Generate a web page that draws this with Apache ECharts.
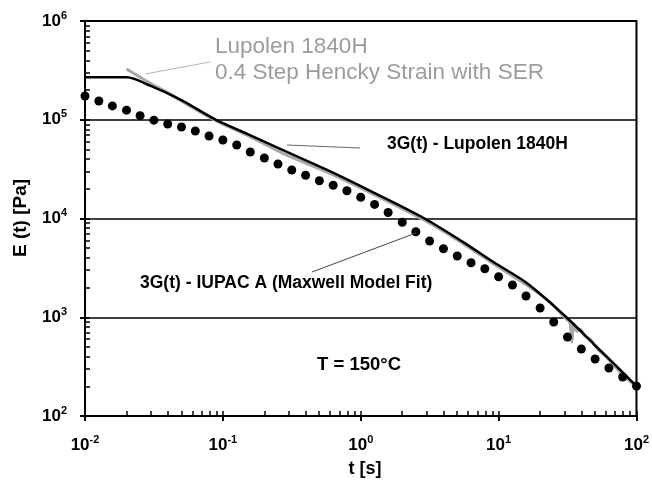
<!DOCTYPE html>
<html>
<head>
<meta charset="utf-8">
<script src="https://cdn.jsdelivr.net/npm/echarts@6/dist/echarts.min.js"></script>
<style>
  html, body { margin: 0; background: #fff; }
  #chart { width: 652px; height: 480px; }
</style>
</head>
<body>
<div id="chart"></div>
<script>
// 3G(t) - Lupolen 1840H (black line)
const blackT = [0.01, 0.02, 0.03, 0.05, 0.09, 0.15, 0.27, 0.57, 1.2, 2.9, 5.5, 9.4, 16, 31, 49, 70, 100];
const blackE = [2.7e5, 2.7e5, 2.2e5, 1.58e5, 9.9e4, 7.2e4, 4.95e4, 3.1e4, 1.87e4, 1.0e4, 5.8e3, 3.54e3, 2.22e3, 1.0e3, 535, 329, 201];

// Lupolen 1840H, 0.4 step Hencky strain with SER (grey line)
const serT = [0.02, 0.03, 0.04, 0.06, 0.09, 0.15, 0.27, 0.57, 1.2, 2.9, 5.5, 9.4, 16, 24, 29, 31, 33, 34, 35, 37, 39, 42, 46, 52, 60, 70, 80, 100];
const serE = [3.27e5, 2.33e5, 1.87e5, 1.33e5, 9.7e4, 7.0e4, 4.6e4, 2.95e4, 1.8e4, 9.6e3, 5.6e3, 3.4e3, 2.12e3, 1.4e3, 1.05e3, 960, 880, 560, 850, 720, 760, 650, 600, 480, 400, 315, 260, 196];

// 3G(t) - IUPAC A, Maxwell model fit (dots)
const fitT = [0.01, 0.0126, 0.0158, 0.02, 0.0251, 0.0316, 0.0398, 0.0501, 0.0631, 0.0794,
  0.1, 0.126, 0.158, 0.2, 0.251, 0.316, 0.398, 0.501, 0.631, 0.794,
  1, 1.26, 1.58, 2, 2.51, 3.16, 3.98, 5.01, 6.31, 7.94,
  10, 12.6, 15.8, 20, 25.1, 31.6, 39.8, 50.1, 63.1, 79.4, 100];
const fitE = [1.74e5, 1.55e5, 1.38e5, 1.25e5, 1.1e5, 9.9e4, 9.06e4, 8.45e4, 7.7e4, 6.84e4,
  6.24e4, 5.55e4, 4.71e4, 4.1e4, 3.56e4, 3.1e4, 2.74e4, 2.41e4, 2.17e4, 1.91e4,
  1.64e4, 1.39e4, 1.15e4, 9.16e3, 7.35e3, 5.92e3, 4.94e3, 4.17e3, 3.56e3, 3.1e3,
  2.57e3, 2.12e3, 1.64e3, 1.24e3, 896, 631, 477, 378, 306, 248, 201];

const xDecades = [-2, -1, 0, 1, 2];
const yDecades = [2, 3, 4, 5, 6];

const FONT = '"Liberation Sans", Arial, sans-serif';

// minor ticks at 2..9 of every decade, in log10 space, for the overlay axes
function minorTicks(decades) {
  const out = [];
  decades.forEach((d, i) => {
    out.push(d);
    if (i === decades.length - 1) return;
    for (let k = 2; k <= 9; k++) out.push(d + Math.log10(k));
  });
  return out;
}

function powLabel(value) {
  const exp = Math.round(Math.log10(value));
  return '{b|10}{s|' + exp + '}';
}

const labelRich = {
  b: { fontFamily: FONT, fontWeight: 'bold', fontSize: 17, color: '#000', lineHeight: 22 },
  s: { fontFamily: FONT, fontWeight: 'bold', fontSize: 11, color: '#000', lineHeight: 12, verticalAlign: 'top' },
};

function pairs(t, e) {
  return t.map((v, i) => [v, e[i]]);
}

const chart = echarts.init(document.getElementById('chart'), null, { renderer: 'canvas' });

chart.setOption({
  backgroundColor: '#fff',
  animation: false,
  grid: { left: 85, right: 9, top: 21, bottom: 64, show: true, borderColor: '#000', borderWidth: 2, backgroundColor: 'transparent' },
  xAxis: [
    {
      type: 'log', min: 0.01, max: 100, position: 'bottom',
      axisLine: { onZero: false, lineStyle: { color: '#000', width: 2 } },
      axisTick: { length: 5, lineStyle: { color: '#000', width: 2 } },
      axisLabel: { formatter: powLabel, rich: labelRich, margin: 18 },
      splitLine: { show: false },
    },
    {
      type: 'value', min: -2, max: 2, position: 'bottom',
      axisLine: { show: false, onZero: false },
      axisTick: { show: true, inside: true, length: 5, customValues: minorTicks(xDecades), lineStyle: { color: '#000', width: 1.5 } },
      axisLabel: { show: true, formatter: () => '' },
      splitLine: { show: false },
    },
  ],
  yAxis: [
    {
      type: 'log', min: 100, max: 1e6, position: 'left',
      axisLine: { onZero: false, lineStyle: { color: '#000', width: 2 } },
      axisTick: { length: 5, lineStyle: { color: '#000', width: 2 } },
      axisLabel: { formatter: powLabel, rich: labelRich, margin: 18 },
      splitLine: { show: true, lineStyle: { color: '#000', width: 1.5 } },
    },
    {
      type: 'value', min: 2, max: 6, position: 'left',
      axisLine: { show: false, onZero: false },
      axisTick: { show: true, inside: true, length: 5, customValues: minorTicks(yDecades), lineStyle: { color: '#000', width: 1.5 } },
      axisLabel: { show: true, formatter: () => '' },
      splitLine: { show: false },
    },
  ],
  series: [
    {
      name: 'SER', type: 'line', xAxisIndex: 0, yAxisIndex: 0,
      data: pairs(serT, serE), showSymbol: false, smooth: 0.2,
      lineStyle: { color: '#a8a8a8', width: 3 }, z: 2,
    },
    {
      name: '3G(t) - Lupolen 1840H', type: 'line', xAxisIndex: 0, yAxisIndex: 0,
      data: pairs(blackT, blackE), showSymbol: false, smooth: 0.3,
      lineStyle: { color: '#000', width: 2.5 }, z: 3,
    },
    {
      name: '3G(t) - IUPAC A', type: 'scatter', xAxisIndex: 0, yAxisIndex: 0,
      data: pairs(fitT, fitE), symbolSize: 9, clip: false,
      itemStyle: { color: '#000', opacity: 1 }, z: 4,
    },
  ],
  graphic: [
    { type: 'line', shape: { x1: 210, y1: 62, x2: 145, y2: 74 }, style: { stroke: '#b4b4b4', lineWidth: 1 }, z: 10 },
    { type: 'line', shape: { x1: 287, y1: 145, x2: 360, y2: 148 }, style: { stroke: '#666', lineWidth: 1 }, z: 10 },
    { type: 'line', shape: { x1: 312, y1: 272, x2: 416, y2: 233 }, style: { stroke: '#444', lineWidth: 1 }, z: 10 },
    { type: 'text', left: 215, top: 35, style: { text: 'Lupolen 1840H', font: '22.5px ' + FONT, fill: '#9c9c9c' }, z: 10 },
    { type: 'text', left: 215, top: 61, style: { text: '0.4 Step Hencky Strain with SER', font: '22.5px ' + FONT, fill: '#9c9c9c' }, z: 10 },
    { type: 'text', left: 387, top: 135, style: { text: '3G(t) - Lupolen 1840H', font: 'bold 17.5px ' + FONT, fill: '#000' }, z: 10 },
    { type: 'text', left: 140, top: 274, style: { text: '3G(t) - IUPAC A (Maxwell Model Fit)', font: 'bold 17.5px ' + FONT, fill: '#000' }, z: 10 },
    { type: 'text', left: 317, top: 355, style: { text: 'T = 150°C', font: 'bold 18.5px ' + FONT, fill: '#000' }, z: 10 },
    { type: 'text', x: 21, y: 218, rotation: Math.PI / 2, style: { text: 'E (t) [Pa]', font: 'bold 19px ' + FONT, fill: '#000', align: 'center', verticalAlign: 'middle' }, z: 10 },
    { type: 'text', x: 365, y: 469, style: { text: 't [s]', font: 'bold 18px ' + FONT, fill: '#000', align: 'center', verticalAlign: 'middle' }, z: 10 },
  ],
});
</script>
</body>
</html>
